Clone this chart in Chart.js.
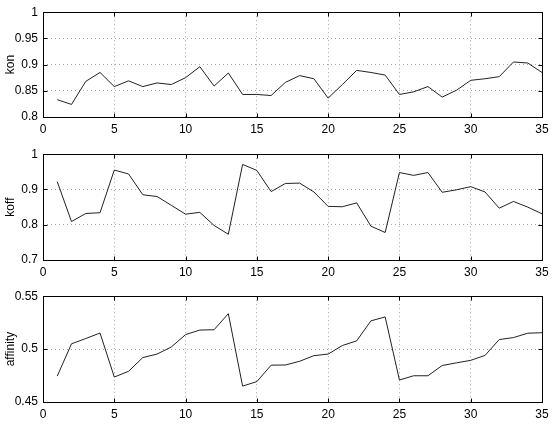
<!DOCTYPE html>
<html>
<head>
<meta charset="utf-8">
<script src="https://cdn.jsdelivr.net/npm/chart.js@4.4.0/dist/chart.umd.min.js"></script>
<style>
  html, body { margin: 0; padding: 0; background: #fff; }
  body { width: 554px; height: 433px; position: relative; overflow: hidden; }
  .box { position: absolute; left: 0; width: 554px; }
</style>
</head>
<body>
<div class="box" style="top:0px;height:140px"><canvas id="c1"></canvas></div>
<div class="box" style="top:142px;height:142px"><canvas id="c2"></canvas></div>
<div class="box" style="top:284px;height:149px"><canvas id="c3"></canvas></div>
<script>
// ---- data ----
const xValues = [1,2,3,4,5,6,7,8,9,10,11,12,13,14,15,16,17,18,19,20,21,22,23,24,25,26,27,28,29,30,31,32,33,34,35];
const konValues = [0.833,0.824,0.868,0.885,0.858,0.869,0.858,0.865,0.862,0.875,0.896,0.859,0.884,0.843,0.843,0.841,0.866,0.879,0.873,0.836,0.862,0.889,0.885,0.880,0.843,0.848,0.858,0.838,0.851,0.870,0.873,0.877,0.905,0.903,0.885];
const koffValues = [0.922,0.809,0.832,0.834,0.955,0.944,0.885,0.880,0.855,0.830,0.835,0.798,0.773,0.971,0.954,0.894,0.917,0.918,0.893,0.852,0.851,0.862,0.796,0.778,0.948,0.940,0.948,0.892,0.899,0.908,0.893,0.847,0.866,0.850,0.831];
const affinityValues = [0.4745,0.505,0.510,0.5152,0.4736,0.479,0.492,0.4953,0.502,0.5137,0.518,0.5183,0.5335,0.465,0.4693,0.4848,0.485,0.4885,0.4938,0.4953,0.5034,0.5078,0.5267,0.5304,0.4708,0.4748,0.4748,0.4845,0.487,0.4894,0.494,0.509,0.5109,0.515,0.5155];
const xTicks = [0,5,10,15,20,25,30,35];
const konTicks = [0.8,0.85,0.9,0.95,1];
const koffTicks = [0.7,0.8,0.9,1];
const affinityTicks = [0.45,0.5,0.55];
const labels = ['kon','koff','affinity'];

const FONT = { family: '"Liberation Sans", Arial, Helvetica, sans-serif', size: 12 };

const boxPlugin = {
  id: 'matlabBox',
  afterDraw(chart) {
    const ctx = chart.ctx, a = chart.chartArea;
    const xs = chart.scales.x, ys = chart.scales.y;
    ctx.save();
    ctx.strokeStyle = '#000';
    ctx.lineWidth = 1;
    const L = Math.round(a.left) + 0.5, R = Math.round(a.right) + 0.5;
    const T = Math.round(a.top) + 0.5, B = Math.round(a.bottom) + 0.5;
    ctx.strokeRect(L, T, R - L, B - T);
    const tl = 4;
    ctx.beginPath();
    xs.ticks.forEach(t => {
      const px = Math.round(xs.getPixelForValue(t.value)) + 0.5;
      ctx.moveTo(px, B); ctx.lineTo(px, B - tl);
      ctx.moveTo(px, T); ctx.lineTo(px, T + tl);
    });
    ys.ticks.forEach(t => {
      const py = Math.round(ys.getPixelForValue(t.value)) + 0.5;
      ctx.moveTo(L, py); ctx.lineTo(L + tl, py);
      ctx.moveTo(R, py); ctx.lineTo(R - tl, py);
    });
    ctx.stroke();
    ctx.restore();
  }
};

function makeChart(id, values, yTicks, label, totalH, plotH) {
  const data = xValues.map((x, i) => ({ x: x, y: values[i] }));
  return new Chart(document.getElementById(id), {
    type: 'line',
    data: { datasets: [{ data: data, borderColor: '#222', borderWidth: 1, pointRadius: 0, tension: 0, fill: false }] },
    options: {
      responsive: true,
      maintainAspectRatio: false,
      animation: false,
      events: [],
      layout: { padding: { top: 11, right: 12, left: 0, bottom: 0 } },
      plugins: { legend: { display: false }, tooltip: { enabled: false } },
      scales: {
        x: {
          type: 'linear',
          min: xTicks[0], max: xTicks[xTicks.length - 1],
          afterBuildTicks: s => { s.ticks = xTicks.map(v => ({ value: v })); },
          afterFit: s => { s.height = totalH - 11 - plotH; },
          grid: { color: '#a8a8a8', drawTicks: false, lineWidth: 1 },
          border: { display: false, dash: [1, 3] },
          ticks: { color: '#000', font: FONT, padding: 5, maxRotation: 0, callback: v => String(v) }
        },
        y: {
          type: 'linear',
          min: yTicks[0], max: yTicks[yTicks.length - 1],
          afterBuildTicks: s => { s.ticks = yTicks.map(v => ({ value: v })); },
          afterFit: s => { s.width = 43; },
          grid: { color: '#a8a8a8', drawTicks: false, lineWidth: 1 },
          border: { display: false, dash: [1, 3] },
          ticks: { color: '#000', font: FONT, padding: 5, callback: v => String(v) },
          title: { display: true, text: label, color: '#000', font: FONT, padding: { top: 3, bottom: 0 } }
        }
      }
    },
    plugins: [boxPlugin]
  });
}

makeChart('c1', konValues, konTicks, labels[0], 140, 106);
makeChart('c2', koffValues, koffTicks, labels[1], 142, 107);
makeChart('c3', affinityValues, affinityTicks, labels[2], 149, 107);
</script>
</body>
</html>
